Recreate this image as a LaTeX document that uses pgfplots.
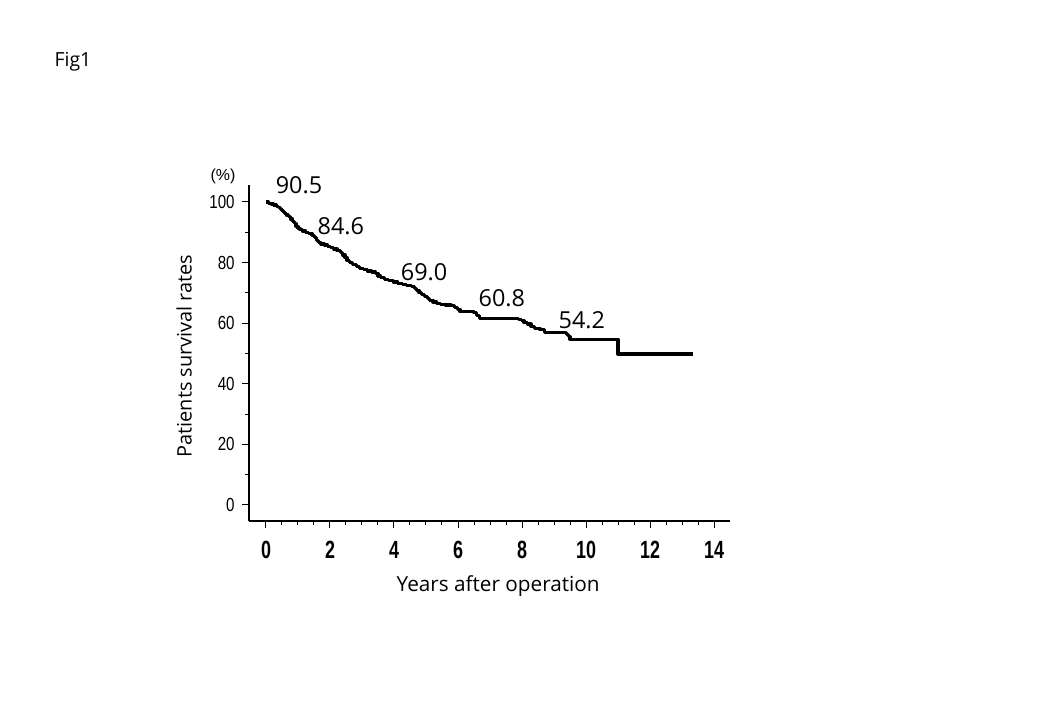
\documentclass[border=0pt]{standalone}
\usepackage{fontspec}
\setmainfont{Open Sans}
\newfontfamily\liber{Liberation Sans}
\usepackage{pgfplots}
\pgfplotsset{compat=1.18}
\begin{document}
\begin{tikzpicture}
\useasboundingbox (0,0) rectangle (1040bp,720bp);
\begin{axis}[
  at={(249bp,199bp)}, anchor=south west,
  scale only axis, width=481bp, height=336bp,
  xmin=-0.531, xmax=14.5, ymin=-5.28, ymax=105.6,
  axis x line*=bottom, axis y line*=left,
  axis line style={line width=1.3bp},
  xtick={0,2,...,14}, ytick={0,20,...,100},
  minor x tick num=3, minor y tick num=1,
  tick align=outside,
  major tick length=7bp, minor tick length=4bp,
  tick style={line width=1bp, black},
  /pgf/number format/assume math mode=true,
  xticklabel style={font=\liber\bfseries\fontsize{25}{25}\selectfont, xscale=0.72, inner sep=0pt, anchor=base, yshift=-31bp},
  yticklabel style={font=\liber\fontsize{19}{19}\selectfont, xscale=0.8, inner sep=0pt, xshift=-9bp},
  xlabel={Years after operation},
  ylabel={Patients survival rates},
  xlabel style={font=\fontsize{20.8}{20.8}\selectfont, at={(axis description cs:0.518,-0.193)}, anchor=center},
  ylabel style={font=\fontsize{20}{20}\selectfont, at={(axis description cs:-0.135,0.491)}, anchor=center, rotate=0},
  clip=false,
]
\addplot[const plot, line width=3.2bp, black, line join=round] coordinates {
(0,100) (0.08,99.6) (0.16,99.3) (0.24,99.0) (0.32,98.6) (0.40,98.1) (0.46,97.5)
(0.52,96.9) (0.58,96.3) (0.64,95.7) (0.70,95.1) (0.76,94.4) (0.82,93.6) (0.88,92.8)
(0.94,92.0) (1.00,91.3) (1.06,90.8) (1.14,90.4) (1.24,90.0) (1.34,89.6) (1.44,89.0)
(1.52,88.3) (1.58,87.4) (1.64,86.6) (1.72,86.1) (1.82,85.8) (1.92,85.4) (2.02,85.0)
(2.12,84.5) (2.22,83.9) (2.32,83.2) (2.40,82.5) (2.47,81.6) (2.53,80.7) (2.60,80.0)
(2.70,79.3) (2.82,78.6) (2.92,78.1) (3.04,77.6) (3.16,77.2) (3.30,76.9) (3.42,76.4)
(3.50,75.6) (3.58,75.0) (3.70,74.5) (3.84,74.0) (3.98,73.6) (4.12,73.2) (4.26,72.8)
(4.40,72.4) (4.55,72.1) (4.63,71.5) (4.70,70.8) (4.78,70.1) (4.86,69.4) (4.95,68.8)
(5.04,68.2) (5.12,67.6) (5.22,67.0) (5.34,66.5) (5.46,66.1) (5.60,66.0) (5.78,65.8)
(5.90,65.2) (5.98,64.5) (6.06,63.8) (6.50,63.4) (6.58,62.6) (6.66,61.6) (7.90,61.2)
(7.98,60.8) (8.06,60.3) (8.18,59.7) (8.28,59.0) (8.40,58.3) (8.56,57.8) (8.70,57.0)
(9.40,56.2) (9.46,55.5) (9.50,54.7) (11.0,49.8) (13.33,49.8)
};
\node[font=\fontsize{23.5}{23.5}\selectfont] at (axis cs:1.03,105.6) {90.5};
\node[font=\fontsize{23.5}{23.5}\selectfont] at (axis cs:2.34,92.1) {84.6};
\node[font=\fontsize{23.5}{23.5}\selectfont] at (axis cs:4.94,76.7) {69.0};
\node[font=\fontsize{23.5}{23.5}\selectfont] at (axis cs:7.37,68.3) {60.8};
\node[font=\fontsize{23.5}{23.5}\selectfont] at (axis cs:9.87,61.0) {54.2};
\node[font=\liber\fontsize{16}{16}\selectfont] at (axis description cs:-0.054,1.027) {(\%)};
\end{axis}
\node[font=\fontsize{19.5}{19.5}\selectfont] at (73bp,658bp) {Fig1};
\end{tikzpicture}
\end{document}
